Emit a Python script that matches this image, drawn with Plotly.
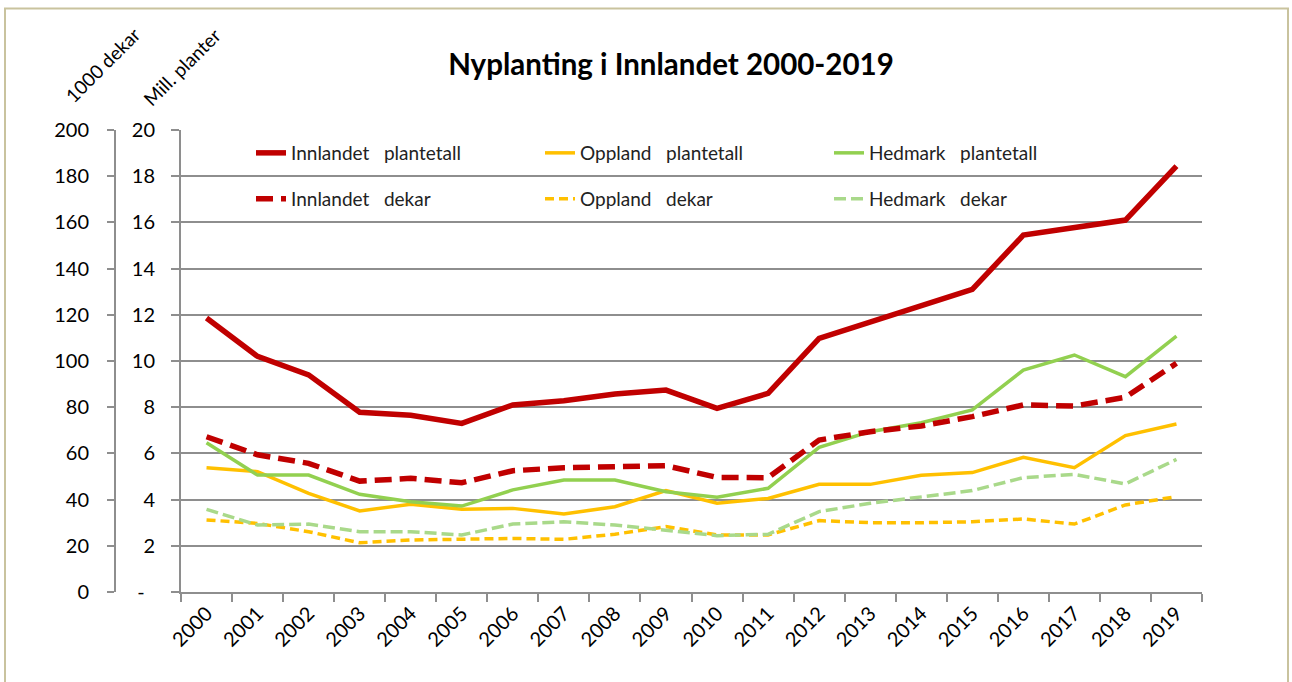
import plotly.graph_objects as go

years = [str(y) for y in range(2000, 2020)]

# Million plants
innlandet_plantetall = [11.86, 10.2, 9.4, 7.78, 7.65, 7.3, 8.1, 8.28, 8.57, 8.74,
                        7.95, 8.6, 10.98, 11.7, 12.43, 13.1, 15.45, 15.77, 16.1, 18.44]
oppland_plantetall = [5.38, 5.21, 4.27, 3.51, 3.8, 3.58, 3.62, 3.38, 3.69, 4.39,
                      3.84, 4.05, 4.66, 4.66, 5.05, 5.17, 5.83, 5.38, 6.77, 7.27]
hedmark_plantetall = [6.46, 5.06, 5.06, 4.23, 3.91, 3.72, 4.42, 4.85, 4.85, 4.34,
                      4.1, 4.49, 6.26, 6.94, 7.33, 7.88, 9.61, 10.26, 9.32, 11.08]

# 1000 dekar
innlandet_dekar = [67.2, 59.4, 55.7, 48.0, 49.2, 47.3, 52.5, 53.8, 54.2, 54.7,
                   49.6, 49.5, 65.8, 69.4, 71.9, 75.9, 81.0, 80.5, 84.3, 99.0]
oppland_dekar = [31.2, 29.7, 26.1, 21.3, 22.5, 22.8, 23.2, 22.8, 25.0, 28.3,
                 24.7, 24.7, 30.9, 30.0, 30.0, 30.4, 31.6, 29.4, 37.7, 41.3]
hedmark_dekar = [35.8, 29.0, 29.4, 26.1, 26.1, 24.7, 29.4, 30.4, 29.0, 26.8,
                 24.4, 25.0, 34.8, 38.4, 41.3, 43.9, 49.5, 50.9, 46.8, 57.4]

planter_ticks = list(range(0, 21, 2))
planter_ticktext = ["-\u00a0\u00a0"] + [str(v) for v in planter_ticks[1:]]
dekar_ticks = list(range(0, 201, 20))

RED = "#C00000"
YEL = "#FFC000"
GRN = "#92D050"
LGRN = "#A9D98A"
FONT = "Lato"
SP = "\u00a0\u00a0\u00a0"

fig = go.Figure()

fig.add_trace(go.Scatter(x=years, y=innlandet_plantetall, mode="lines",
                         name="Innlandet" + SP + "plantetall", legend="legend",
                         line=dict(color=RED, width=5.5), yaxis="y"))
fig.add_trace(go.Scatter(x=years, y=oppland_plantetall, mode="lines",
                         name="Oppland" + SP + "plantetall", legend="legend",
                         line=dict(color=YEL, width=3.5), yaxis="y"))
fig.add_trace(go.Scatter(x=years, y=hedmark_plantetall, mode="lines",
                         name="Hedmark" + SP + "plantetall", legend="legend",
                         line=dict(color=GRN, width=3.5), yaxis="y"))
fig.add_trace(go.Scatter(x=years, y=innlandet_dekar, mode="lines",
                         name="Innlandet" + SP + "dekar", legend="legend2",
                         line=dict(color=RED, width=5.5, dash="17px,8px"), yaxis="y2"))
fig.add_trace(go.Scatter(x=years, y=oppland_dekar, mode="lines",
                         name="Oppland" + SP + "dekar", legend="legend2",
                         line=dict(color=YEL, width=3.5, dash="9px,5px"), yaxis="y2"))
fig.add_trace(go.Scatter(x=years, y=hedmark_dekar, mode="lines",
                         name="Hedmark" + SP + "dekar", legend="legend2",
                         line=dict(color=LGRN, width=3.5, dash="12px,5px"), yaxis="y2"))

L, R, T, B = 40, 90, 130, 90
W, H = 1292, 682
PW = W - L - R
PH = H - T - B


def px_x(px):
    return (px - L) / PW


def px_y(py):
    return 1 - (py - T) / PH


GRID = "#8e8e8e"
legend_common = dict(orientation="h", entrywidth=244, entrywidthmode="pixels",
                     font=dict(family=FONT, size=19, color="#222222"),
                     bgcolor="rgba(0,0,0,0)", xanchor="left", yanchor="middle",
                     itemclick=False, itemdoubleclick=False)

fig.update_layout(
    width=W, height=H,
    margin=dict(l=L, r=R, t=T, b=B, autoexpand=False),
    paper_bgcolor="white", plot_bgcolor="white",
    font=dict(family=FONT, color="#000000"),
    title=dict(text="<b>Nyplanting i Innlandet 2000-2019</b>",
               font=dict(family=FONT, size=29.5, color="#000000"),
               xref="container", yref="container", x=671 / W, y=1 - 65 / H,
               xanchor="center", yanchor="middle"),
    xaxis=dict(domain=[px_x(181), 1], type="category", range=[-0.5, len(years) - 0.5],
               showgrid=False,
               showline=True, linecolor=GRID, linewidth=2, automargin=False,
               ticks="outside", tickson="boundaries", ticklen=8, tickcolor=GRID, tickwidth=2,
               tickangle=-45, tickfont=dict(family=FONT, size=20, color="#000000"),
               zeroline=False),
    yaxis=dict(range=[0, 20], tickvals=planter_ticks, ticktext=planter_ticktext,
               showgrid=True, gridcolor=GRID, gridwidth=2, automargin=False,
               showline=True, linecolor=GRID, linewidth=2,
               ticks="outside", ticklen=8, tickcolor=GRID, tickwidth=2,
               ticklabelstandoff=12,
               tickfont=dict(family=FONT, size=20, color="#000000"), zeroline=False),
    yaxis2=dict(range=[0, 200], tickvals=dekar_ticks, overlaying="y", anchor="free",
                side="left", position=px_x(115), showgrid=False, automargin=False,
                showline=True, linecolor=GRID, linewidth=2,
                ticks="outside", ticklen=7, tickcolor=GRID, tickwidth=2,
                ticklabelstandoff=14,
                tickfont=dict(family=FONT, size=20, color="#000000"), zeroline=False),
    legend=dict(x=px_x(251), y=px_y(153), **legend_common),
    legend2=dict(x=px_x(251), y=px_y(199), **legend_common),
    showlegend=True,
    annotations=[
        dict(text="1000 dekar", x=px_x(103), y=px_y(65), xref="paper", yref="paper",
             showarrow=False, textangle=-45, xanchor="center", yanchor="middle",
             font=dict(family=FONT, size=19, color="#000000")),
        dict(text="Mill. planter", x=px_x(181), y=px_y(67), xref="paper", yref="paper",
             showarrow=False, textangle=-45, xanchor="center", yanchor="middle",
             font=dict(family=FONT, size=19, color="#000000")),
    ],
    shapes=[
        dict(type="rect", xref="paper", yref="paper",
             x0=px_x(5), x1=px_x(1288), y0=px_y(700), y1=px_y(8.5),
             line=dict(color="#C9C39E", width=2), fillcolor="rgba(0,0,0,0)", layer="below"),
    ],
)

fig.write_html("out.html", config={"displayModeBar": False},
               post_script="document.body.style.margin='0px';document.body.style.overflow='hidden';")
